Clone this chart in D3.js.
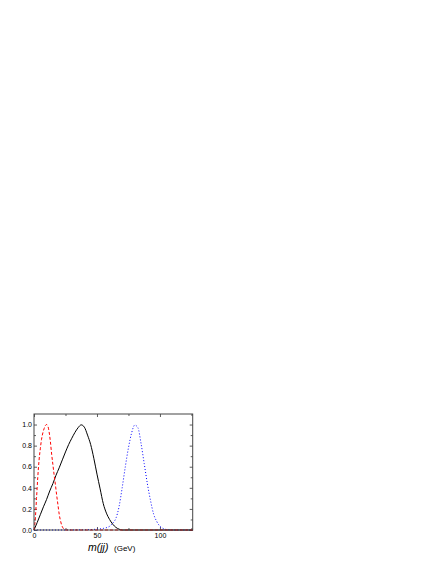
<!DOCTYPE html>
<html><head><meta charset="utf-8">
<script src="https://cdn.jsdelivr.net/npm/d3@7"></script>
<style>body{margin:0;background:#fff}svg{display:block}</style>
</head><body>
<svg id="c" width="436" height="564"></svg>
<script>
// Data
const redX = [0,1,2,3,4,5,6,7,8,9,10,11,12,13,14,15,16,17,18,19,20,21,22,23,24,25,40,60,80,100,126];
const redY = [0,0.1,0.3,0.5,0.66,0.77,0.86,0.92,0.96,0.99,1.0,0.985,0.93,0.84,0.72,0.62,0.52,0.43,0.33,0.24,0.15,0.09,0.045,0.02,0.005,0,0,0,0,0,0];
const blackX = [0,2.5,5,7.5,10,12.5,15,17.5,20,22.5,25,27.5,30,32.5,35,37.5,40,42.5,45,47.5,50,52.5,55,57.5,60,62.5,65,67.5,70,80,100,126];
const blackY = [0,0.07,0.145,0.22,0.29,0.37,0.44,0.52,0.59,0.665,0.74,0.81,0.87,0.925,0.97,0.997,0.975,0.9,0.81,0.68,0.53,0.39,0.25,0.16,0.1,0.055,0.025,0.008,0,0,0,0];
const blueX = [0,20,40,45,50,55,60,62.5,65,67.5,70,72.5,75,77.5,80,82.5,85,87.5,90,92.5,95,97.5,100,102.5,105,110,126];
const blueY = [0,0,0.002,0.004,0.008,0.015,0.035,0.065,0.11,0.22,0.4,0.6,0.78,0.92,0.995,0.97,0.82,0.63,0.44,0.28,0.15,0.08,0.035,0.015,0.005,0,0];
const xTicks = [0,50,100];
const xMinor = [25,75,125];
const yTicks = [0,0.2,0.4,0.6,0.8,1.0];
const yMinor = [0.1,0.3,0.5,0.7,0.9];

const svg = d3.select("#c");
const L=34, R=192.7, T=414, B=530;
const x = d3.scaleLinear().domain([0,126]).range([L,R]);
const y = d3.scaleLinear().domain([0,1.1]).range([B,T]);

const g = svg.append("g");
function ax(gen, tx, ty){ return g.append("g").attr("transform",`translate(${tx},${ty})`).call(gen); }
const fmt = d3.format(".1f");
ax(d3.axisBottom(x).tickValues(xTicks).tickSizeInner(-3).tickSizeOuter(0).tickPadding(3).tickFormat(d3.format("d")),0,B);
ax(d3.axisBottom(x).tickValues(xMinor).tickSizeInner(-2).tickSizeOuter(0).tickFormat(""),0,B);
ax(d3.axisTop(x).tickValues(xTicks).tickSizeInner(-3).tickSizeOuter(0).tickFormat(""),0,T);
ax(d3.axisTop(x).tickValues(xMinor).tickSizeInner(-2).tickSizeOuter(0).tickFormat(""),0,T);
ax(d3.axisLeft(y).tickValues(yTicks).tickSizeInner(-3).tickSizeOuter(0).tickPadding(2).tickFormat(fmt),L,0);
ax(d3.axisLeft(y).tickValues(yMinor).tickSizeInner(-2).tickSizeOuter(0).tickFormat(""),L,0);
ax(d3.axisRight(y).tickValues(yTicks).tickSizeInner(-3).tickSizeOuter(0).tickFormat(""),R,0);
ax(d3.axisRight(y).tickValues(yMinor).tickSizeInner(-2).tickSizeOuter(0).tickFormat(""),R,0);
g.selectAll(".domain").remove();
g.selectAll(".tick line").attr("stroke","#333").attr("stroke-width",0.8);
g.selectAll(".tick text").attr("font-family","Liberation Sans, Arial, sans-serif").attr("font-size","7px").attr("fill","#000");

// curves
const line = d3.line().x(d=>x(d[0])).y(d=>y(d[1])).curve(d3.curveMonotoneX);
const plot = svg.append("g");
plot.append("path").datum(blueX.map((v,i)=>[v,blueY[i]])).attr("d",line)
  .attr("fill","none").attr("stroke","#0000ff").attr("stroke-width",1).attr("stroke-dasharray","1,2");
plot.append("path").datum(blackX.map((v,i)=>[v,blackY[i]])).attr("d",line)
  .attr("fill","none").attr("stroke","#000").attr("stroke-width",1);
plot.append("path").datum(redX.map((v,i)=>[v,redY[i]])).attr("d",line)
  .attr("fill","none").attr("stroke","#ff0000").attr("stroke-width",1).attr("stroke-dasharray","3,2");

// frame
svg.append("rect").attr("x",L).attr("y",T).attr("width",R-L).attr("height",B-T)
  .attr("fill","none").attr("stroke","#444").attr("stroke-width",1);

// x label
const lab = svg.append("text").attr("y",551).attr("font-family","Liberation Sans, Arial, sans-serif").attr("fill","#000");
lab.append("tspan").attr("x",88).attr("font-style","italic").attr("font-size","10.5px").text("m(jj)");
lab.append("tspan").attr("x",114).attr("font-size","8px").text("(GeV)");
</script>
</body></html>
